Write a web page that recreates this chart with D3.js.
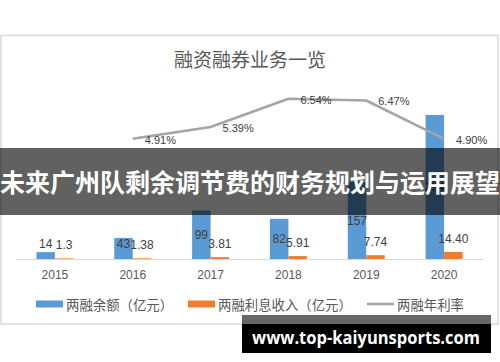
<!DOCTYPE html>
<html>
<head>
<meta charset="utf-8">
<script src="https://cdn.jsdelivr.net/npm/d3@7"></script>
<style>
  html, body { margin: 0; padding: 0; background: #fff; }
  svg { display: block; }
</style>
</head>
<body>
<div id="chart"></div>
<script>
// chart values
var years = ['2015', '2016', '2017', '2018', '2019', '2020'];
var balance = [14, 43, 99, 82, 157, 294];          // 两融余额（亿元）
var interest = [1.3, 1.38, 3.81, 5.91, 7.74, 14.40]; // 两融利息收入（亿元）
var interestText = ['1.3', '1.38', '3.81', '5.91', '7.74', '14.40'];
var rate = [null, 4.91, 5.39, 6.54, 6.47, 4.90];   // 两融年利率 (%)
var seriesNames = ['两融余额（亿元）', '两融利息收入（亿元）', '两融年利率'];
var title = '融资融券业务一览';
var banner = '未来广州队剩余调节费的财务规划与运用展望';
var watermark = 'www.top-kaiyunsports.com';

var W = 500, H = 362;
var colors = { blue: '#5b9bd5', orange: '#ed7d31', grey: '#a5a5a5' };
var numFont = '"Liberation Sans", Arial, sans-serif';
var cjkFont = '"Noto Sans CJK SC", sans-serif';

var svg = d3.select('#chart').append('svg')
    .attr('width', W)
    .attr('height', H);

// chart frame
svg.append('rect')
    .attr('x', 1).attr('y', 35.5)
    .attr('width', 497).attr('height', 288.5)
    .attr('fill', '#fff')
    .attr('stroke', '#d9d9d9')
    .attr('stroke-width', 1.5);

svg.append('text')
    .attr('x', 250).attr('y', 58)
    .attr('text-anchor', 'middle')
    .attr('dominant-baseline', 'central')
    .attr('font-family', cjkFont)
    .attr('font-size', 19)
    .attr('fill', '#595959')
    .text(title);

// scales
var x0 = d3.scaleBand().domain(years).range([16, 483])
    .paddingInner(0.525).paddingOuter(0.2625);
var x1 = d3.scaleBand().domain(['b', 'i']).range([0, x0.bandwidth()]);
var y = d3.scaleLinear().domain([0, 400]).range([259, 63]);
var y2 = d3.scaleLinear().domain([0, 8]).range([259, 63]);
var cx = function(d) { return x0(d) + x0.bandwidth() / 2; };

// bars
var groups = svg.append('g').selectAll('g')
    .data(years)
    .join('g')
    .attr('transform', function(d) { return 'translate(' + x0(d) + ',0)'; });

groups.append('rect')
    .attr('x', x1('b'))
    .attr('width', x1.bandwidth())
    .attr('y', function(d, i) { return y(balance[i]); })
    .attr('height', function(d, i) { return y(0) - y(balance[i]); })
    .attr('fill', colors.blue);

groups.append('rect')
    .attr('x', x1('i'))
    .attr('width', x1.bandwidth())
    .attr('y', function(d, i) { return y(interest[i]); })
    .attr('height', function(d, i) { return y(0) - y(interest[i]); })
    .attr('fill', colors.orange);

// x axis
var xAxis = svg.append('g')
    .attr('transform', 'translate(0,' + y(0) + ')')
    .call(d3.axisBottom(x0).tickSize(0).tickPadding(11));
xAxis.select('.domain').attr('stroke', '#d9d9d9').attr('stroke-width', 1.2);
xAxis.selectAll('text')
    .attr('font-family', numFont)
    .attr('font-size', 12)
    .attr('fill', '#595959');

// bar labels
groups.append('text')
    .attr('x', x1('b') + x1.bandwidth() / 2)
    .attr('y', function(d, i) { return Math.min(y(balance[i] / 2), y(0) - 15); })
    .attr('text-anchor', 'middle')
    .attr('dominant-baseline', 'central')
    .attr('font-family', numFont)
    .attr('font-size', 12)
    .attr('fill', '#404040')
    .text(function(d, i) { return balance[i]; });

groups.append('text')
    .attr('x', x1('i') + x1.bandwidth() / 2)
    .attr('y', function(d, i) { return y(interest[i]) - 13; })
    .attr('text-anchor', 'middle')
    .attr('dominant-baseline', 'central')
    .attr('font-family', numFont)
    .attr('font-size', 12)
    .attr('fill', '#404040')
    .text(function(d, i) { return interestText[i]; });

// rate line
var ratePts = years.map(function(d, i) { return { year: d, v: rate[i] }; })
    .filter(function(p) { return p.v !== null; });

svg.append('path')
    .datum(ratePts)
    .attr('fill', 'none')
    .attr('stroke', colors.grey)
    .attr('stroke-width', 2.6)
    .attr('stroke-linejoin', 'round')
    .attr('d', d3.line()
        .x(function(p) { return cx(p.year); })
        .y(function(p) { return y2(p.v); }));

svg.append('g').selectAll('text')
    .data(ratePts)
    .join('text')
    .attr('x', function(p) { return cx(p.year) + 12; })
    .attr('y', function(p) { return y2(p.v) + 1; })
    .attr('dominant-baseline', 'central')
    .attr('font-family', numFont)
    .attr('font-size', 11)
    .attr('fill', '#404040')
    .text(function(p) { return p.v.toFixed(2) + '%'; });

// legend
var legend = svg.append('g').attr('transform', 'translate(0,304)');
var legendX = [36, 188, 367];
legend.append('rect').attr('x', legendX[0]).attr('y', -3.5).attr('width', 27).attr('height', 7).attr('fill', colors.blue);
legend.append('rect').attr('x', legendX[1]).attr('y', -3.5).attr('width', 27).attr('height', 7).attr('fill', colors.orange);
legend.append('line').attr('x1', legendX[2]).attr('x2', legendX[2] + 27)
    .attr('stroke', colors.grey).attr('stroke-width', 2.6);
legend.selectAll('text')
    .data(seriesNames)
    .join('text')
    .attr('x', function(d, i) { return legendX[i] + 30; })
    .attr('dominant-baseline', 'central')
    .attr('font-family', cjkFont)
    .attr('font-size', 13.4)
    .attr('fill', '#595959')
    .text(function(d) { return d; });

// dark banner over the middle
svg.append('rect')
    .attr('x', 0).attr('y', 148)
    .attr('width', W).attr('height', 67)
    .attr('fill', '#000')
    .attr('fill-opacity', 0.62);
svg.append('text')
    .attr('x', 250).attr('y', 181)
    .attr('text-anchor', 'middle')
    .attr('dominant-baseline', 'central')
    .attr('font-family', cjkFont)
    .attr('font-weight', 'bold')
    .attr('font-size', 25)
    .attr('textLength', 500)
    .attr('lengthAdjust', 'spacingAndGlyphs')
    .attr('fill', '#fff')
    .text(banner);

// watermark box
svg.append('rect')
    .attr('x', 242).attr('y', 315)
    .attr('width', 249).attr('height', 38)
    .attr('fill', '#000');
svg.append('rect')
    .attr('x', 242).attr('y', 315)
    .attr('width', 249).attr('height', 9)
    .attr('fill', '#fff')
    .attr('fill-opacity', 0.4);
svg.append('text')
    .attr('x', 366).attr('y', 337)
    .attr('text-anchor', 'middle')
    .attr('dominant-baseline', 'central')
    .attr('font-family', '"Open Sans", sans-serif')
    .attr('font-weight', 'bold')
    .attr('font-size', 18)
    .attr('textLength', 228)
    .attr('lengthAdjust', 'spacingAndGlyphs')
    .attr('fill', '#fff')
    .text(watermark);
</script>
</body>
</html>
